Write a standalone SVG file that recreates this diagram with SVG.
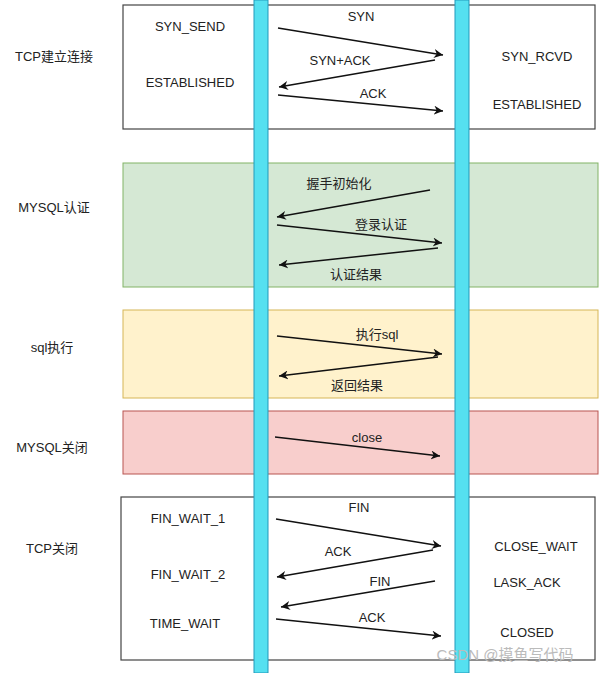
<svg xmlns="http://www.w3.org/2000/svg" width="604" height="673" viewBox="0 0 604 673">
<style>
text{font-family:"Liberation Sans","Noto Sans CJK SC",sans-serif;font-size:13px;fill:#222}
.lbl{text-anchor:middle}
.c line{stroke:#111;stroke-width:1.5;marker-end:url(#a)}
.bar{fill:#55E0F0;stroke:#2299BB;stroke-width:1}
</style>
<defs><marker id="a" viewBox="0 0 10 10" refX="10" refY="5" markerWidth="9" markerHeight="9" orient="auto" markerUnits="userSpaceOnUse"><path d="M0,0L10,5L0,10L3,5z" fill="#111"/></marker></defs>
<rect width="604" height="673" fill="#fff"/>
<g id="tcp-open"><rect x="123" y="5" width="472" height="124" fill="#fff" stroke="#444" stroke-width="1.2"/>
<text x="54" y="61" class="lbl">TCP建立连接</text>
<text x="190" y="31" class="lbl">SYN_SEND</text><text x="190" y="87" class="lbl">ESTABLISHED</text>
<text x="537" y="61" class="lbl">SYN_RCVD</text><text x="537" y="109" class="lbl">ESTABLISHED</text></g>
<g id="mysql-auth"><rect x="123" y="163" width="475" height="124" fill="#D5E8D4" stroke="#82B366"/>
<text x="54" y="212" class="lbl">MYSQL认证</text></g>
<g id="sql-exec"><rect x="123" y="310" width="475" height="88" fill="#FFF2CC" stroke="#D6B656"/>
<text x="52" y="352" class="lbl">sql执行</text></g>
<g id="mysql-close"><rect x="123" y="411" width="475" height="63" fill="#F8CECC" stroke="#B85450"/>
<text x="52" y="452" class="lbl">MYSQL关闭</text></g>
<g id="tcp-close"><rect x="121" y="497" width="474" height="163" fill="#fff" stroke="#444" stroke-width="1.2"/>
<text x="52" y="553" class="lbl">TCP关闭</text>
<text x="188" y="523" class="lbl">FIN_WAIT_1</text><text x="188" y="579" class="lbl">FIN_WAIT_2</text><text x="185" y="628" class="lbl">TIME_WAIT</text>
<text x="536" y="551" class="lbl">CLOSE_WAIT</text><text x="527" y="587" class="lbl">LASK_ACK</text><text x="527" y="637" class="lbl">CLOSED</text></g>
<g id="bars"><rect class="bar" x="254" y="0" width="14" height="673"/><rect class="bar" x="455" y="0" width="14" height="673"/></g>
<g class="c" id="connectors">
<line x1="278" y1="28" x2="443" y2="55"/><line x1="435" y1="60" x2="279" y2="87"/><line x1="278" y1="95" x2="443" y2="111"/>
<line x1="430" y1="190" x2="277" y2="217"/><line x1="277" y1="225" x2="442" y2="243"/><line x1="438" y1="248" x2="279" y2="265"/>
<line x1="277" y1="336" x2="442" y2="354"/><line x1="438" y1="357" x2="279" y2="376"/>
<line x1="275" y1="437" x2="440" y2="456"/>
<line x1="276" y1="519" x2="441" y2="546"/><line x1="433" y1="550" x2="277" y2="577"/><line x1="435" y1="581" x2="281" y2="607"/><line x1="276" y1="619" x2="441" y2="636"/>
</g>
<g id="labels">
<text x="361" y="21" class="lbl">SYN</text><text x="340" y="65" class="lbl">SYN+ACK</text><text x="373" y="98" class="lbl">ACK</text>
<text x="339" y="188" class="lbl">握手初始化</text><text x="381" y="229" class="lbl">登录认证</text><text x="356" y="279" class="lbl">认证结果</text>
<text x="377" y="339" class="lbl">执行sql</text><text x="357" y="390" class="lbl">返回结果</text>
<text x="367" y="442" class="lbl">close</text>
<text x="359" y="512" class="lbl">FIN</text><text x="338" y="556" class="lbl">ACK</text><text x="380" y="586" class="lbl">FIN</text><text x="372" y="622" class="lbl">ACK</text>
<text x="505" y="660" class="lbl" style="fill:#bbb;font-size:15px">CSDN @摸鱼写代码</text>
</g>
</svg>
